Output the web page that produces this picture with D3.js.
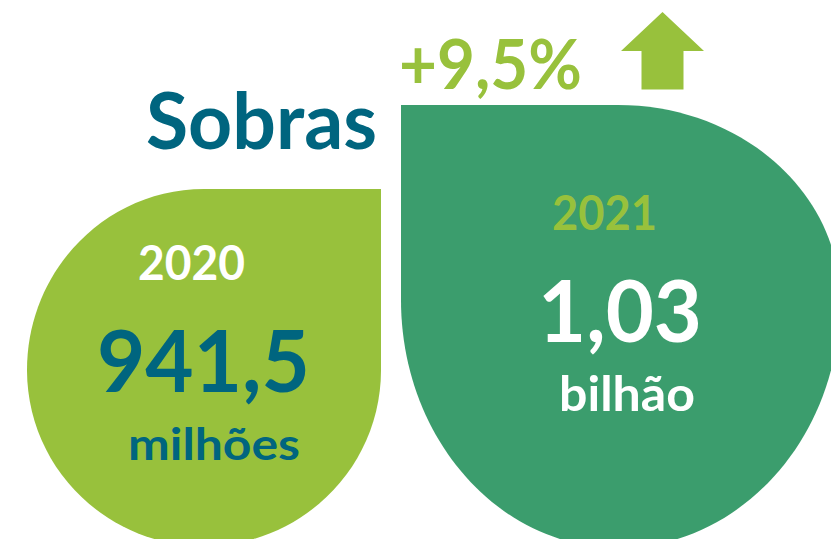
<!DOCTYPE html>
<html>
<head>
<meta charset="utf-8">
<script src="https://cdn.jsdelivr.net/npm/d3@7/dist/d3.min.js"></script>
<style>
  html, body { margin: 0; padding: 0; background: #ffffff; }
  svg { display: block; }
  text { font-family: Lato, "Open Sans", sans-serif; font-weight: 700; }
</style>
</head>
<body>
<div id="chart"></div>
<script>
// ---- data ----
const title = "Sobras";
const years = ["2020", "2021"];
const values = ["941,5", "1,03"];
const units = ["milhões", "bilhão"];
const change = "+9,5%";

// ---- layout / style ----
const W = 831, H = 539;
const colors = {
  lime: "#98c13c",
  green: "#3b9d6d",
  teal: "#00657f",
  white: "#ffffff"
};

const svg = d3.select("#chart").append("svg")
  .attr("width", W).attr("height", H);

// drop shapes: ellipse quadrants with one square corner
const drops = [
  { cx: 204, cy: 370, top: 189, left: 27, right: 381, ryB: 176, corner: "tr", fill: colors.lime },
  { cx: 618, cy: 300, top: 105, left: 401, right: 840, ryB: 248, corner: "tl", fill: colors.green }
];

const K = 0.5523;
function dropPath(s) {
  const p = d3.path();
  const rxL = s.cx - s.left, rxR = s.right - s.cx;
  const ryT = s.cy - s.top, bottom = s.cy + s.ryB;
  if (s.corner === "tr") {
    p.moveTo(s.cx, s.top);
    p.lineTo(s.right, s.top);
    p.lineTo(s.right, s.cy);
  } else {
    p.moveTo(s.left, s.top);
    p.lineTo(s.cx, s.top);
    p.bezierCurveTo(s.cx + K * rxR, s.top, s.right, s.cy - K * ryT, s.right, s.cy);
  }
  // bottom-right quadrant
  p.bezierCurveTo(s.right, s.cy + K * s.ryB, s.cx + K * rxR, bottom, s.cx, bottom);
  // bottom-left quadrant
  p.bezierCurveTo(s.cx - K * rxL, bottom, s.left, s.cy + K * s.ryB, s.left, s.cy);
  if (s.corner === "tr") {
    p.bezierCurveTo(s.left, s.cy - K * ryT, s.cx - K * rxL, s.top, s.cx, s.top);
  } else {
    p.lineTo(s.left, s.top);
  }
  p.closePath();
  return p.toString();
}

svg.selectAll("path.drop").data(drops).join("path")
  .attr("class", "drop")
  .attr("d", dropPath)
  .attr("fill", d => d.fill);

// arrow
const arrow = d3.path();
arrow.moveTo(662.5, 12);
arrow.lineTo(704, 51);
arrow.lineTo(683.5, 51);
arrow.lineTo(683.5, 89.5);
arrow.lineTo(641.5, 89.5);
arrow.lineTo(641.5, 51);
arrow.lineTo(621, 51);
arrow.closePath();
svg.append("path").attr("d", arrow.toString()).attr("fill", colors.lime);

// text
const labels = [
  { t: title, x: 146, y: 149, w: 231, size: 78, fill: colors.teal },
  { t: change, x: 399, y: 88.5, w: 183, size: 68, fill: colors.lime },
  { t: years[0], x: 138, y: 280, w: 107, size: 47, fill: colors.white },
  { t: values[0], x: 97, y: 392, w: 213, size: 86, fill: colors.teal },
  { t: units[0], x: 128, y: 460, w: 172, size: 44, fill: colors.teal },
  { t: years[1], x: 552, y: 230, w: 105, size: 47, fill: colors.lime },
  { t: values[1], x: 538, y: 342, w: 164, size: 86, fill: colors.white },
  { t: units[1], x: 559, y: 411, w: 136, size: 48, fill: colors.white }
];

svg.selectAll("text.lbl").data(labels).join("text")
  .attr("class", "lbl")
  .attr("x", d => d.x)
  .attr("y", d => d.y)
  .attr("font-size", d => d.size)
  .attr("textLength", d => d.w)
  .attr("lengthAdjust", "spacingAndGlyphs")
  .attr("fill", d => d.fill)
  .text(d => d.t);
</script>
</body>
</html>
